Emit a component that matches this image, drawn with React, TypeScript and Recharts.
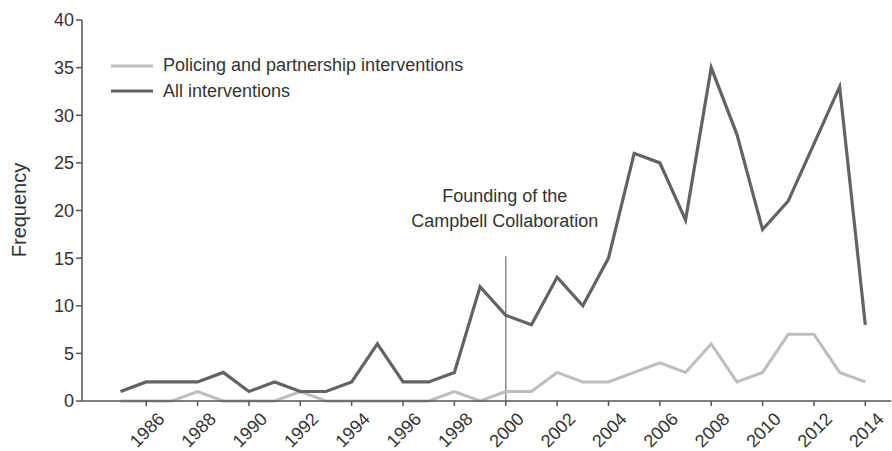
import React from 'react';
import { LineChart, Line, XAxis, YAxis, ReferenceLine, Legend } from 'recharts';

const years = [1985, 1986, 1987, 1988, 1989, 1990, 1991, 1992, 1993, 1994, 1995, 1996, 1997, 1998, 1999, 2000, 2001, 2002, 2003, 2004, 2005, 2006, 2007, 2008, 2009, 2010, 2011, 2012, 2013, 2014];
const allInterventions = [1, 2, 2, 2, 3, 1, 2, 1, 1, 2, 6, 2, 2, 3, 12, 9, 8, 13, 10, 15, 26, 25, 19, 35, 28, 18, 21, 27, 33, 8];
const policing = [0, 0, 0, 1, 0, 0, 0, 1, 0, 0, 0, 0, 0, 1, 0, 1, 1, 3, 2, 2, 3, 4, 3, 6, 2, 3, 7, 7, 3, 2];
const xTicks = [1986, 1988, 1990, 1992, 1994, 1996, 1998, 2000, 2002, 2004, 2006, 2008, 2010, 2012, 2014];
const yTicks = [0, 5, 10, 15, 20, 25, 30, 35, 40];
const annotationLines = ['Founding of the', 'Campbell Collaboration'];
const foundingYear = 2000;
const foundingHeight = 15.2;

const data = years.map((year, i) => ({ year, all: allInterventions[i], policing: policing[i] }));

const FONT = '"Liberation Sans", Arial, sans-serif';
const TEXT = '#333';
const DARK = '#636363';
const LIGHT = '#bebebe';
const AXIS = '#555';

const XTick = (props: any) => {
  const { x, y, payload } = props;
  const cx = x + 1;
  const cy = y + 22;
  return (
    <text x={cx} y={cy} textAnchor="middle" dominantBaseline="central" fontSize={18} fontFamily={FONT} fill={TEXT} transform={`rotate(-45 ${cx} ${cy})`}>
      {payload.value}
    </text>
  );
};

const LegendContent = () => (
  <div style={{ fontFamily: FONT, fontSize: 18, color: TEXT }}>
    {[{ c: LIGHT, t: 'Policing and partnership interventions' }, { c: DARK, t: 'All interventions' }].map((r) => (
      <div key={r.t} style={{ display: 'flex', alignItems: 'center', height: 25.5 }}>
        <svg width={42} height={6} style={{ marginRight: 10 }}>
          <line x1={0} y1={3} x2={42} y2={3} stroke={r.c} strokeWidth={3} />
        </svg>
        <span>{r.t}</span>
      </div>
    ))}
  </div>
);

const AnnotationLabel = (props: any) => {
  const vb = props.viewBox || {};
  const x = (vb.x ?? 0) - 1;
  const y = vb.y ?? 0;
  return (
    <text textAnchor="middle" fontSize={18} fontFamily={FONT} fill={TEXT}>
      <tspan x={x} y={y - 54}>{annotationLines[0]}</tspan>
      <tspan x={x} y={y - 29}>{annotationLines[1]}</tspan>
    </text>
  );
};

export default function App() {
  return (
    <div style={{ position: 'absolute', left: 0, top: 0, background: '#fff' }}>
      <LineChart width={892} height={451} data={data} margin={{ top: 20, right: 1, left: 0, bottom: 0 }}>
        <XAxis
          dataKey="year"
          type="number"
          domain={[1983.5, 2015]}
          ticks={xTicks}
          interval={0}
          allowDataOverflow
          height={50}
          tick={<XTick />}
          tickSize={5}
          stroke={AXIS}
          strokeWidth={1.5}
          tickLine={{ stroke: AXIS, strokeWidth: 1.5 }}
        />
        <YAxis
          type="number"
          domain={[0, 40]}
          ticks={yTicks}
          interval={0}
          width={82}
          tickSize={6}
          tickMargin={2}
          stroke={AXIS}
          strokeWidth={1.5}
          tick={{ fontSize: 18, fontFamily: FONT, fill: TEXT }}
          label={{
            content: () => (
              <text x={19} y={210} transform="rotate(-90 19 210)" textAnchor="middle" dominantBaseline="central" fontSize={20} fontFamily={FONT} fill={TEXT}>
                Frequency
              </text>
            ),
          }}
        />
        <Legend layout="horizontal" verticalAlign="middle" align="center" content={<LegendContent />} wrapperStyle={{ top: 53, left: 111, width: 'auto', height: 'auto' }} />
        <ReferenceLine
          segment={[{ x: foundingYear, y: 0 }, { x: foundingYear, y: foundingHeight }]}
          stroke="#8a8a8a"
          strokeWidth={1.5}
          label={<AnnotationLabel />}
        />
        <Line type="linear" dataKey="policing" stroke={LIGHT} strokeWidth={3} dot={false} isAnimationActive={false} />
        <Line type="linear" dataKey="all" stroke={DARK} strokeWidth={3.2} dot={false} isAnimationActive={false} />
      </LineChart>
    </div>
  );
}
